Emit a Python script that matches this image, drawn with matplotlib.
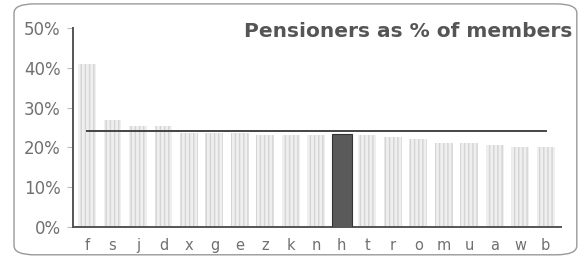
import matplotlib
matplotlib.use("Agg")
import matplotlib.pyplot as plt
from matplotlib.patches import FancyBboxPatch
import numpy as np

categories = ["f", "s", "j", "d", "x", "g", "e", "z", "k", "n",
              "h", "t", "r", "o", "m", "u", "a", "w", "b"]
pct_values = [41.0, 27.0, 25.5, 25.5, 23.5, 23.5, 23.5, 23.0, 23.0, 23.0,
              23.4, 23.0, 22.5, 22.0, 21.0, 21.0, 20.5, 20.0, 20.0]
average_pct = 24.2
highlight = "h"
y_ticks = [0, 10, 20, 30, 40, 50]
title = "Pensioners as % of members"

AXIS = "#555555"
TEXT = "#707070"

fig = plt.figure(figsize=(5.85, 2.6), dpi=100, facecolor="white")

# rounded frame around the whole chart
frame = FancyBboxPatch((0.024, 0.02), 0.962, 0.965,
                       boxstyle="round,pad=0,rounding_size=0.035",
                       transform=fig.transFigure, fill=False,
                       edgecolor="#999999", linewidth=1.0)
fig.patches.append(frame)

ax = fig.add_axes([0.1248, 0.127, 0.834, 0.765])

x = np.arange(len(categories))
for xi, cat, val in zip(x, categories, pct_values):
    if cat == highlight:
        ax.bar(xi, val, width=0.78, color="#5a5a5a", edgecolor="#333333",
               linewidth=0.8, zorder=3)
    else:
        ax.bar(xi, val, width=0.7, color="#efefef", edgecolor="#d4d4d4",
               hatch="||||", linewidth=0, zorder=2)

# average line, drawn from first to last category
ax.plot([x[0], x[-1]], [average_pct, average_pct],
        color="#444444", linewidth=1.4, zorder=4)

ax.set_xlim(-0.55, len(categories) - 0.4)
ax.set_ylim(0, 50)
ax.set_yticks(y_ticks)
ax.set_yticklabels([f"{t}%" for t in y_ticks], color=TEXT, fontsize=12)
ax.set_xticks(x)
ax.set_xticklabels(categories, color=TEXT, fontsize=10.5)

ax.tick_params(axis="y", length=4, color="#bbbbbb", pad=5)
ax.tick_params(axis="x", length=0, pad=8)

for side in ["top", "right"]:
    ax.spines[side].set_visible(False)
ax.spines["left"].set_color(AXIS)
ax.spines["left"].set_linewidth(1.4)
ax.spines["bottom"].set_color(AXIS)
ax.spines["bottom"].set_linewidth(1.4)

fig.text(0.978, 0.878, title, ha="right", va="center",
         color="#555555", fontsize=14.5, fontweight="bold")

fig.savefig("out.png", dpi=100, facecolor="white")
